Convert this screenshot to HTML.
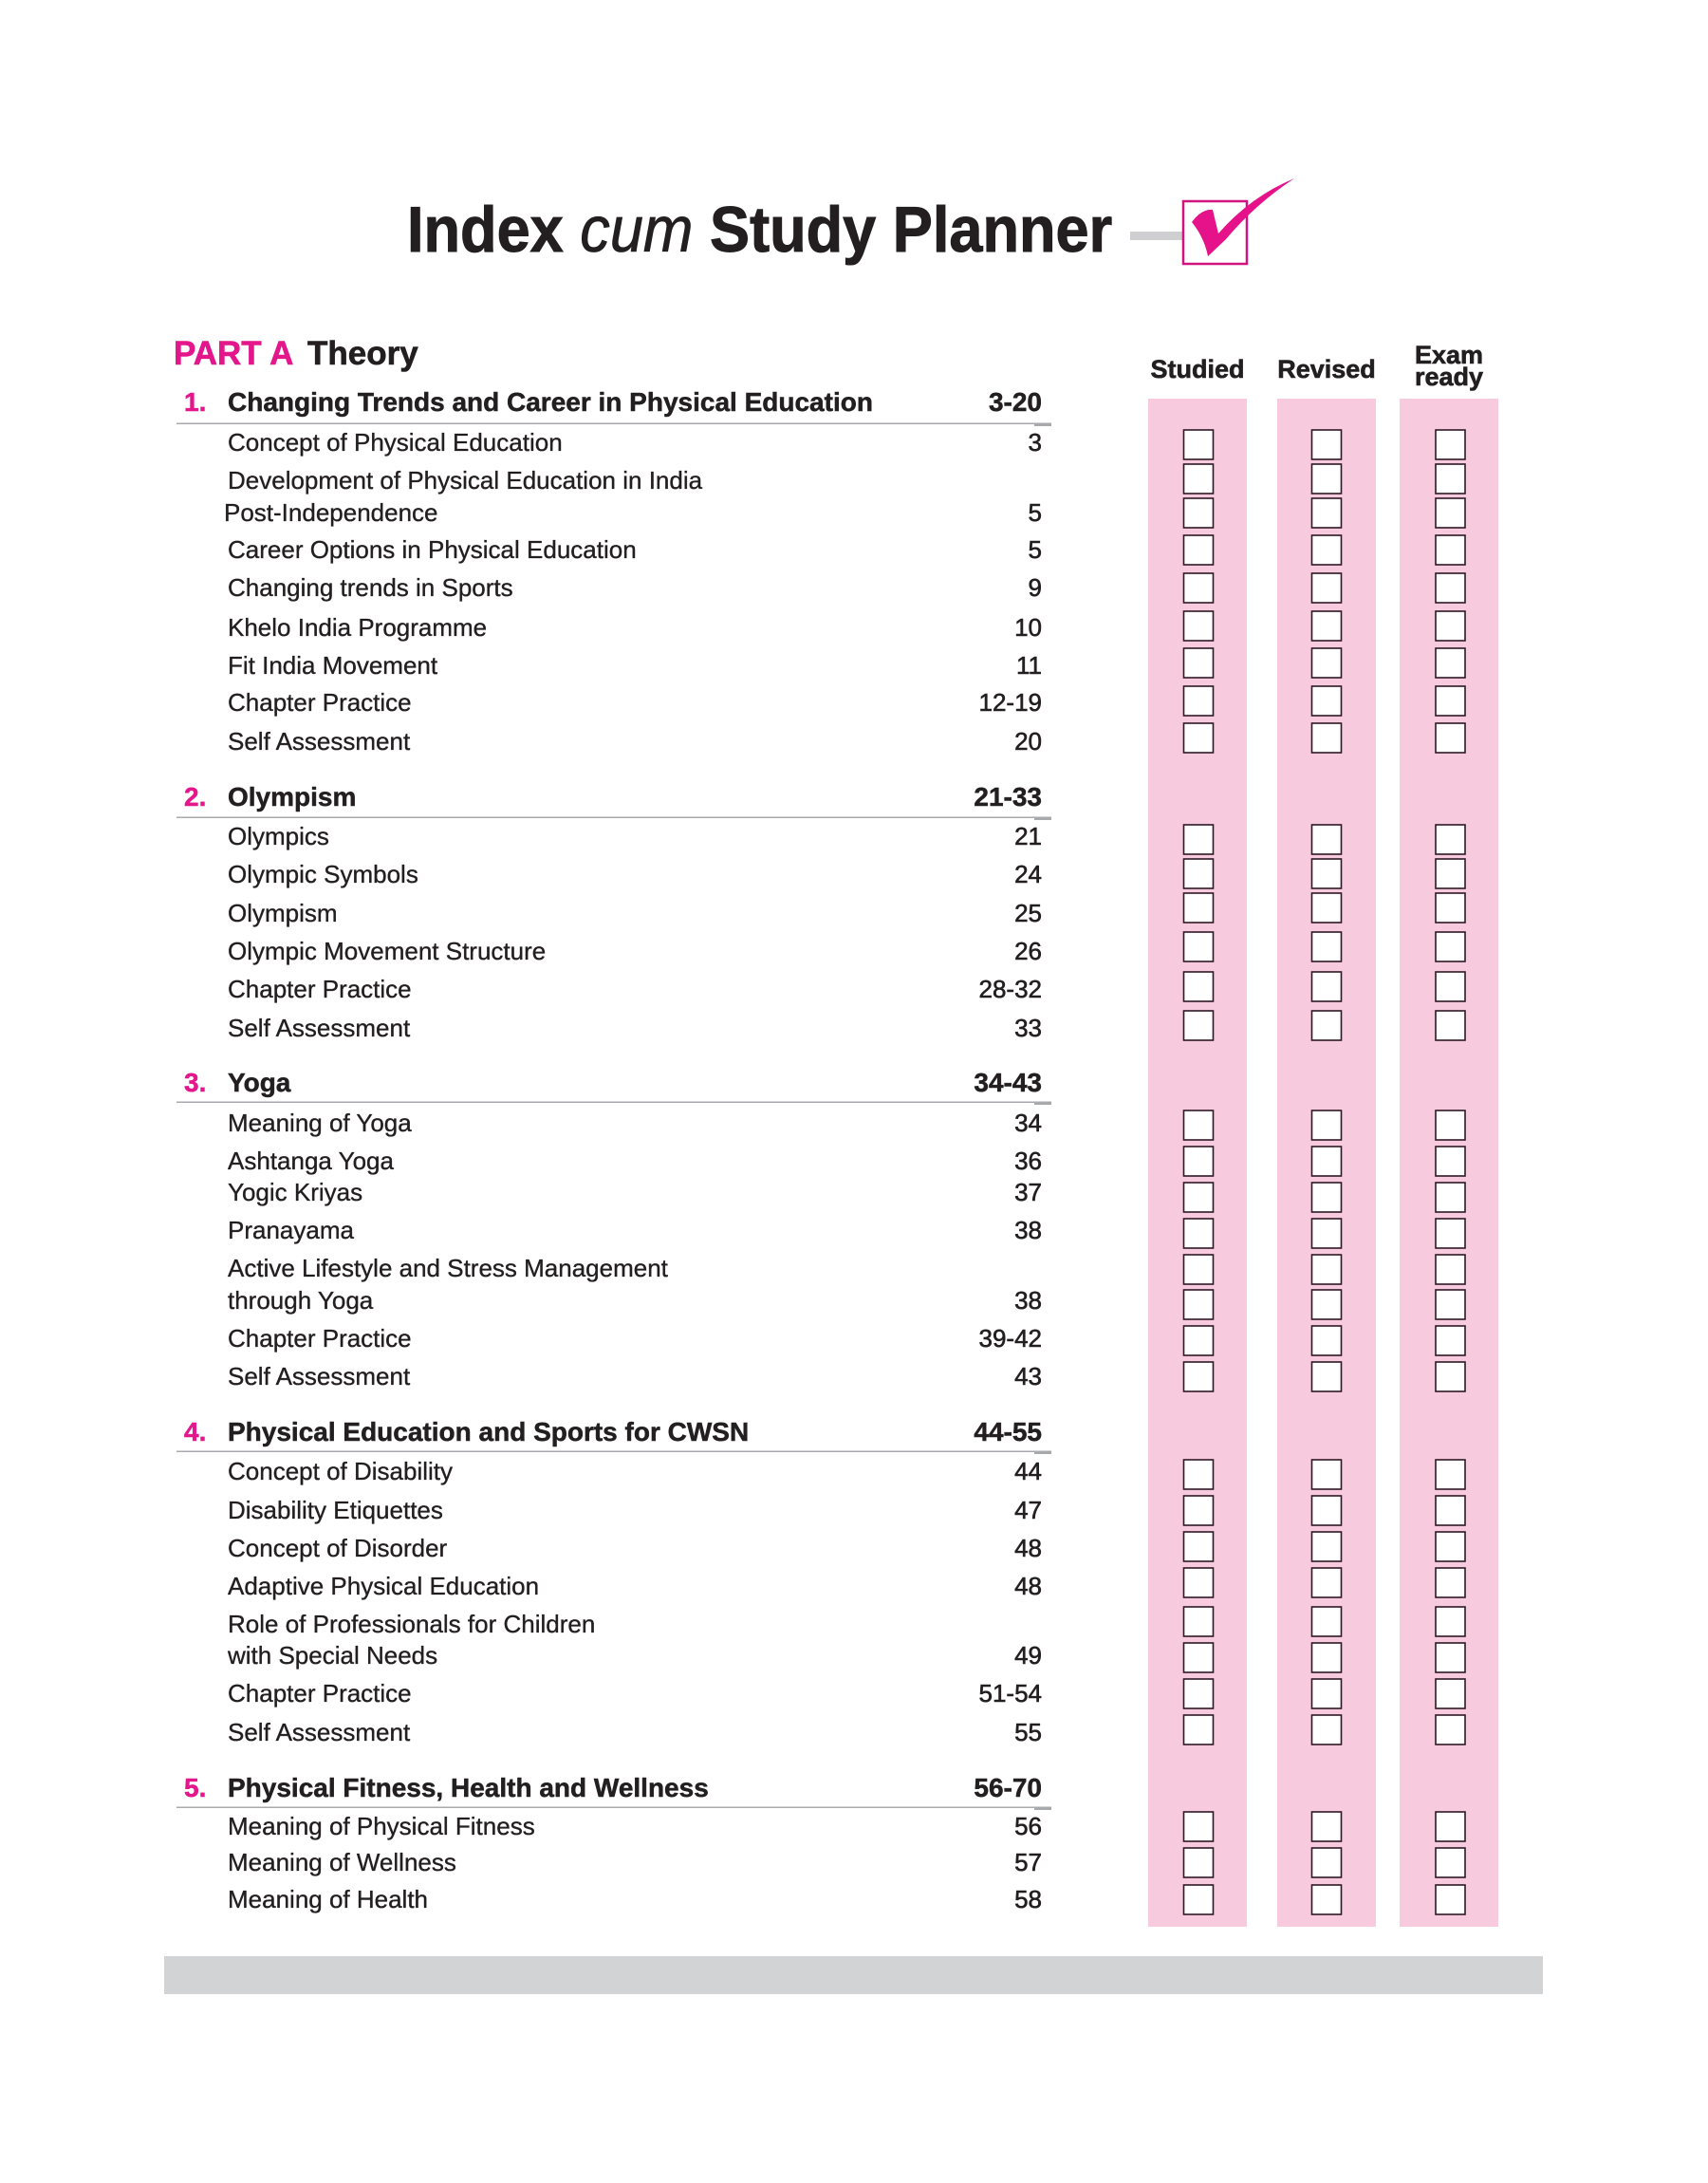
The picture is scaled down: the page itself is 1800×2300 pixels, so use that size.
<!DOCTYPE html>
<html>
<head>
<meta charset="utf-8">
<style>
  html,body{margin:0;padding:0;background:#ffffff;}
  body{width:1800px;height:2300px;overflow:hidden;}
  svg{display:block;}
  .t{font-family:"Liberation Sans",Arial,sans-serif;fill:#231f20;}
  .item{font-size:26px;stroke:#231f20;stroke-width:0.35px;}
  .num{font-size:26px;text-anchor:end;stroke:#231f20;stroke-width:0.6px;}
  .hd{font-size:28px;font-weight:bold;stroke:#231f20;stroke-width:0.5px;}
  .hdn{font-size:28px;font-weight:bold;text-anchor:end;stroke:#231f20;stroke-width:0.5px;}
  .mg{fill:#e3168b;font-weight:bold;font-size:28px;stroke:#e3168b;stroke-width:0.5px;}
  .col{font-size:27px;font-weight:bold;text-anchor:middle;stroke:#231f20;stroke-width:0.6px;}
</style>
</head>
<body>
<svg width="1800" height="2300" viewBox="0 0 1800 2300" xmlns="http://www.w3.org/2000/svg">
  <defs>
    <g id="boxes">
      <rect x="0" y="453" width="31" height="31"/>
      <rect x="0" y="489" width="31" height="31"/>
      <rect x="0" y="525" width="31" height="31"/>
      <rect x="0" y="564" width="31" height="31"/>
      <rect x="0" y="604" width="31" height="31"/>
      <rect x="0" y="644" width="31" height="31"/>
      <rect x="0" y="683" width="31" height="31"/>
      <rect x="0" y="723" width="31" height="31"/>
      <rect x="0" y="762" width="31" height="31"/>

      <rect x="0" y="869" width="31" height="31"/>
      <rect x="0" y="905" width="31" height="31"/>
      <rect x="0" y="941" width="31" height="31"/>
      <rect x="0" y="982" width="31" height="31"/>
      <rect x="0" y="1024" width="31" height="31"/>
      <rect x="0" y="1065" width="31" height="31"/>

      <rect x="0" y="1170" width="31" height="31"/>
      <rect x="0" y="1208" width="31" height="31"/>
      <rect x="0" y="1246" width="31" height="31"/>
      <rect x="0" y="1284" width="31" height="31"/>
      <rect x="0" y="1322" width="31" height="31"/>
      <rect x="0" y="1359" width="31" height="31"/>
      <rect x="0" y="1397" width="31" height="31"/>
      <rect x="0" y="1435" width="31" height="31"/>

      <rect x="0" y="1538" width="31" height="31"/>
      <rect x="0" y="1576" width="31" height="31"/>
      <rect x="0" y="1614" width="31" height="31"/>
      <rect x="0" y="1652" width="31" height="31"/>
      <rect x="0" y="1693" width="31" height="31"/>
      <rect x="0" y="1731" width="31" height="31"/>
      <rect x="0" y="1769" width="31" height="31"/>
      <rect x="0" y="1807" width="31" height="31"/>

      <rect x="0" y="1909" width="31" height="31"/>
      <rect x="0" y="1947" width="31" height="31"/>
      <rect x="0" y="1986" width="31" height="31"/>
    </g>
  </defs>

  <!-- Title -->
  <g transform="translate(429,265) scale(0.928,1)">
    <text class="t" x="0" y="0" style="font-size:68px;font-weight:bold;stroke:#231f20;stroke-width:1px;">Index <tspan style="font-style:italic;font-weight:normal;stroke-width:0.8px;">cum</tspan> Study Planner</text>
  </g>
  <rect x="1191" y="244" width="55" height="9" fill="#cfcfd1"/>
  <rect x="1247" y="212" width="67" height="66" fill="none" stroke="#d0147f" stroke-width="2.5"/>
  <path d="M1256,234 Q1266,220 1278,221 L1284,246 Q1318,207 1364,188 Q1323,215 1292,252 L1273,270 Q1269,250 1256,234 Z" fill="#e5128a"/>

  <!-- Part A -->
  <text class="t" x="183" y="384" style="font-size:35px;font-weight:bold;fill:#e3168b;stroke:#e3168b;stroke-width:0.6px;">PART A</text>
  <text class="t" x="324" y="384" style="font-size:35px;font-weight:bold;stroke:#231f20;stroke-width:0.6px;">Theory</text>

  <!-- Columns -->
  <rect x="1210" y="420" width="104" height="1610" fill="#f7cade"/>
  <rect x="1346" y="420" width="104" height="1610" fill="#f7cade"/>
  <rect x="1475" y="420" width="104" height="1610" fill="#f7cade"/>
  <text class="t col" x="1262" y="398">Studied</text>
  <text class="t col" x="1398" y="398">Revised</text>
  <text class="t col" x="1527" y="383">Exam</text>
  <text class="t col" x="1527" y="406">ready</text>

  <g fill="#ffffff" stroke="#2e1826" stroke-width="1.6">
    <use href="#boxes" x="1247.5"/>
    <use href="#boxes" x="1382.5"/>
    <use href="#boxes" x="1513"/>
  </g>

  <!-- Heading lines -->
  <g fill="#a8a9ac">
    <rect x="186" y="445.5" width="922" height="1.5"/>
    <rect x="1090" y="446" width="18" height="3"/>
    <rect x="186" y="860.5" width="922" height="1.5"/>
    <rect x="1090" y="861" width="18" height="3"/>
    <rect x="186" y="1160.5" width="922" height="1.5"/>
    <rect x="1090" y="1161" width="18" height="3"/>
    <rect x="186" y="1528.5" width="922" height="1.5"/>
    <rect x="1090" y="1529" width="18" height="3"/>
    <rect x="186" y="1903.5" width="922" height="1.5"/>
    <rect x="1090" y="1904" width="18" height="3"/>
  </g>

  <!-- Chapter 1 -->
  <text class="t mg" x="194" y="433">1.</text>
  <text class="t hd" x="240" y="433">Changing Trends and Career in Physical Education</text>
  <text class="t hdn" x="1098" y="433">3-20</text>
  <text class="t item" x="240" y="475">Concept of Physical Education</text><text class="t num" x="1098" y="475">3</text>
  <text class="t item" x="240" y="515">Development of Physical Education in India</text>
  <text class="t item" x="236" y="549">Post-Independence</text><text class="t num" x="1098" y="549">5</text>
  <text class="t item" x="240" y="588">Career Options in Physical Education</text><text class="t num" x="1098" y="588">5</text>
  <text class="t item" x="240" y="628">Changing trends in Sports</text><text class="t num" x="1098" y="628">9</text>
  <text class="t item" x="240" y="670">Khelo India Programme</text><text class="t num" x="1098" y="670">10</text>
  <text class="t item" x="240" y="710">Fit India Movement</text><text class="t num" x="1098" y="710">11</text>
  <text class="t item" x="240" y="749">Chapter Practice</text><text class="t num" x="1098" y="749">12-19</text>
  <text class="t item" x="240" y="790">Self Assessment</text><text class="t num" x="1098" y="790">20</text>

  <!-- Chapter 2 -->
  <text class="t mg" x="194" y="849">2.</text>
  <text class="t hd" x="240" y="849">Olympism</text>
  <text class="t hdn" x="1098" y="849">21-33</text>
  <text class="t item" x="240" y="890">Olympics</text><text class="t num" x="1098" y="890">21</text>
  <text class="t item" x="240" y="930">Olympic Symbols</text><text class="t num" x="1098" y="930">24</text>
  <text class="t item" x="240" y="971">Olympism</text><text class="t num" x="1098" y="971">25</text>
  <text class="t item" x="240" y="1011">Olympic Movement Structure</text><text class="t num" x="1098" y="1011">26</text>
  <text class="t item" x="240" y="1051">Chapter Practice</text><text class="t num" x="1098" y="1051">28-32</text>
  <text class="t item" x="240" y="1092">Self Assessment</text><text class="t num" x="1098" y="1092">33</text>

  <!-- Chapter 3 -->
  <text class="t mg" x="194" y="1150">3.</text>
  <text class="t hd" x="240" y="1150">Yoga</text>
  <text class="t hdn" x="1098" y="1150">34-43</text>
  <text class="t item" x="240" y="1192">Meaning of Yoga</text><text class="t num" x="1098" y="1192">34</text>
  <text class="t item" x="240" y="1232">Ashtanga Yoga</text><text class="t num" x="1098" y="1232">36</text>
  <text class="t item" x="240" y="1265">Yogic Kriyas</text><text class="t num" x="1098" y="1265">37</text>
  <text class="t item" x="240" y="1305">Pranayama</text><text class="t num" x="1098" y="1305">38</text>
  <text class="t item" x="240" y="1345">Active Lifestyle and Stress Management</text>
  <text class="t item" x="240" y="1379">through Yoga</text><text class="t num" x="1098" y="1379">38</text>
  <text class="t item" x="240" y="1419">Chapter Practice</text><text class="t num" x="1098" y="1419">39-42</text>
  <text class="t item" x="240" y="1459">Self Assessment</text><text class="t num" x="1098" y="1459">43</text>

  <!-- Chapter 4 -->
  <text class="t mg" x="194" y="1518">4.</text>
  <text class="t hd" x="240" y="1518">Physical Education and Sports for CWSN</text>
  <text class="t hdn" x="1098" y="1518">44-55</text>
  <text class="t item" x="240" y="1559">Concept of Disability</text><text class="t num" x="1098" y="1559">44</text>
  <text class="t item" x="240" y="1600">Disability Etiquettes</text><text class="t num" x="1098" y="1600">47</text>
  <text class="t item" x="240" y="1640">Concept of Disorder</text><text class="t num" x="1098" y="1640">48</text>
  <text class="t item" x="240" y="1680">Adaptive Physical Education</text><text class="t num" x="1098" y="1680">48</text>
  <text class="t item" x="240" y="1720">Role of Professionals for Children</text>
  <text class="t item" x="240" y="1753">with Special Needs</text><text class="t num" x="1098" y="1753">49</text>
  <text class="t item" x="240" y="1793">Chapter Practice</text><text class="t num" x="1098" y="1793">51-54</text>
  <text class="t item" x="240" y="1834">Self Assessment</text><text class="t num" x="1098" y="1834">55</text>

  <!-- Chapter 5 -->
  <text class="t mg" x="194" y="1893">5.</text>
  <text class="t hd" x="240" y="1893">Physical Fitness, Health and Wellness</text>
  <text class="t hdn" x="1098" y="1893">56-70</text>
  <text class="t item" x="240" y="1933">Meaning of Physical Fitness</text><text class="t num" x="1098" y="1933">56</text>
  <text class="t item" x="240" y="1971">Meaning of Wellness</text><text class="t num" x="1098" y="1971">57</text>
  <text class="t item" x="240" y="2010">Meaning of Health</text><text class="t num" x="1098" y="2010">58</text>

  <!-- Bottom bar -->
  <rect x="173" y="2061" width="1453" height="40" fill="#d2d3d5"/>
</svg>
</body>
</html>
